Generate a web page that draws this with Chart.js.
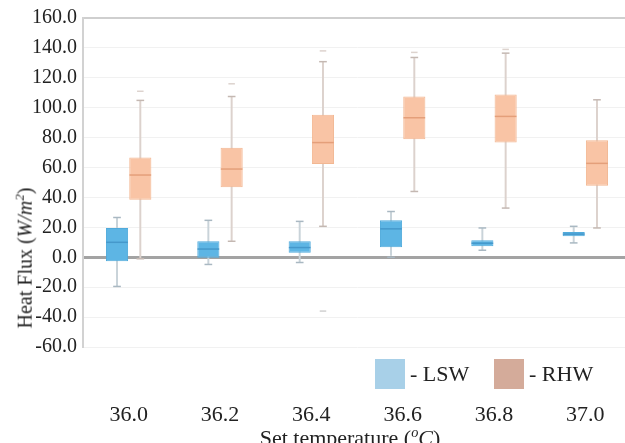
<!DOCTYPE html>
<html>
<head>
<meta charset="utf-8">
<script src="https://cdn.jsdelivr.net/npm/chart.js@4/dist/chart.umd.min.js"></script>
<style>
  html, body { margin: 0; padding: 0; background: #fff; }
  #wrap { position: relative; width: 625px; height: 443px; overflow: hidden; font-family: "Liberation Serif", "Times New Roman", serif; color: #222; }
  #c { position: absolute; left: 0; top: 0; }
  .ytitle { position: absolute; left: 22px; top: 258px; transform: translate(-50%, -50%) rotate(-90deg); white-space: nowrap; font-size: 20px; line-height: 20px; }
  .xtitle { position: absolute; left: 350px; top: 421px; transform: translateX(-50%); white-space: nowrap; font-size: 22px; line-height: 22px; }
  .leg { position: absolute; top: 359px; height: 30px; display: flex; align-items: center; font-size: 22px; line-height: 30px; }
  .leg span.sw { display: inline-block; width: 30px; height: 30px; margin-right: 5px; }
  sup { font-size: 0.65em; }
</style>
</head>
<body>
<div id="wrap">
  <canvas id="c" width="631" height="443"></canvas>
  <div class="ytitle">Heat Flux (<i>W/m<sup>2</sup></i>)</div>
  <div class="xtitle">Set temperature (<sup><i>o</i></sup><i>C</i>)</div>
  <div class="leg" style="left:375px"><span class="sw" style="background:#a8d0e8"></span>- LSW</div>
  <div class="leg" style="left:494px"><span class="sw" style="background:#d4ab9a"></span>- RHW</div>
</div>
<script>
const categories = ['36.0', '36.2', '36.4', '36.6', '36.8', '37.0'];

// LSW five-number summaries
const lswMin    = [-19.5, -4.8, -3.5,  0.0,  4.7,  9.6];
const lswQ1     = [ -2.6, -0.3,  3.0,  6.7,  7.4, 14.0];
const lswMedian = [ 10.0,  5.5,  6.5, 19.0,  9.4, 15.5];
const lswQ3     = [ 19.6, 10.7, 10.7, 24.7, 11.4, 16.9];
const lswMax    = [ 26.6, 24.7, 24.0, 30.6, 19.6, 20.7];

// RHW five-number summaries
const rhwMin    = [ -1.0, 10.7, 20.7, 44.0, 32.9, 19.6];
const rhwQ1     = [ 38.4, 46.8, 62.3, 79.0, 76.7, 47.9];
const rhwMedian = [ 55.0, 59.0, 76.7, 93.3, 94.2, 62.8];
const rhwQ3     = [ 66.8, 73.2, 95.3, 107.5, 108.8, 78.3];
const rhwMax    = [104.9, 107.5, 130.8, 133.6, 136.5, 105.3];
const rhwOutHigh = [111.0, 116.0, 138.0, 137.0, 139.0, null];
const rhwOutLow  = [null, null, -36.0, null, null, null];

const yTicks = { min: -60, max: 160, step: 20 };

const pair = (a, b) => a.map((v, i) => (v === null || b[i] === null) ? null : [v, b[i]]);
const mark = (a, h) => a.map(v => v === null ? null : [v - h, v + h]);

const CP = 0.51;
function ds(label, data, stack, color, bp, extra) {
  return Object.assign({
    label, data, stack,
    backgroundColor: color,
    borderWidth: 0,
    borderSkipped: false,
    categoryPercentage: CP,
    barPercentage: bp
  }, extra || {});
}

const datasets = [
  // top-most first
  ds('LSW median', mark(lswMedian, 0.5), 'L', '#4598cb', 0.93),
  ds('RHW median', mark(rhwMedian, 0.5), 'R', '#e49f7a', 0.93),
  ds('LSW cap max', mark(lswMax, 0.5), 'L', '#a9b8c2', 0.33),
  ds('LSW cap min', mark(lswMin, 0.5), 'L', '#a9b8c2', 0.33),
  ds('RHW cap max', mark(rhwMax, 0.5), 'R', '#c4b8b2', 0.33),
  ds('RHW cap min', mark(rhwMin, 0.5), 'R', '#c4b8b2', 0.33),
  ds('RHW outlier high', mark(rhwOutHigh, 0.5), 'R', '#ddd3ce', 0.28),
  ds('RHW outlier low', mark(rhwOutLow, 0.6), 'R', '#d8d8d8', 0.28),
  ds('LSW box', pair(lswQ1, lswQ3), 'L', '#5db5e4', 0.95, { borderWidth: 1, borderColor: '#50aadb' }),
  ds('RHW box', pair(rhwQ1, rhwQ3), 'R', '#f9c4a5', 0.95, { borderWidth: 1, borderColor: '#f2b792' }),
  ds('LSW whisker', pair(lswMin, lswMax), 'L', '#c9d3d9', 0.085),
  ds('RHW whisker', pair(rhwMin, rhwMax), 'R', '#dcd2cd', 0.085)
];

new Chart(document.getElementById('c'), {
  type: 'bar',
  data: { labels: categories, datasets },
  options: {
    responsive: false,
    animation: false,
    events: [],
    layout: { padding: { top: 18, right: 0, left: 0, bottom: 0 } },
    plugins: { legend: { display: false }, tooltip: { enabled: false } },
    scales: {
      x: {
        grid: { display: false, drawTicks: true, tickLength: 52 },
        border: { display: false },
        ticks: { font: { family: 'Liberation Serif', size: 22 }, color: '#222', padding: 3, maxRotation: 0 },
        afterFit: s => { s.height = 96; }
      },
      y: {
        stacked: false,
        min: yTicks.min, max: yTicks.max,
        border: { display: true, color: '#d2d2d2', width: 2 },
        grid: {
          drawTicks: false,
          color: ctx => ctx.tick && ctx.tick.value === 0 ? '#a3a3a3' : (ctx.tick && ctx.tick.value === yTicks.max ? '#cfcfcf' : '#f1f1f1'),
          lineWidth: ctx => ctx.tick && ctx.tick.value === 0 ? 3 : (ctx.tick && ctx.tick.value === yTicks.max ? 2 : 1)
        },
        ticks: {
          stepSize: yTicks.step,
          padding: 6,
          color: '#222',
          font: { family: 'Liberation Serif', size: 20 },
          callback: v => Number(v).toFixed(1)
        },
        afterFit: s => { s.width = 83; }
      }
    }
  }
});
</script>
</body>
</html>
